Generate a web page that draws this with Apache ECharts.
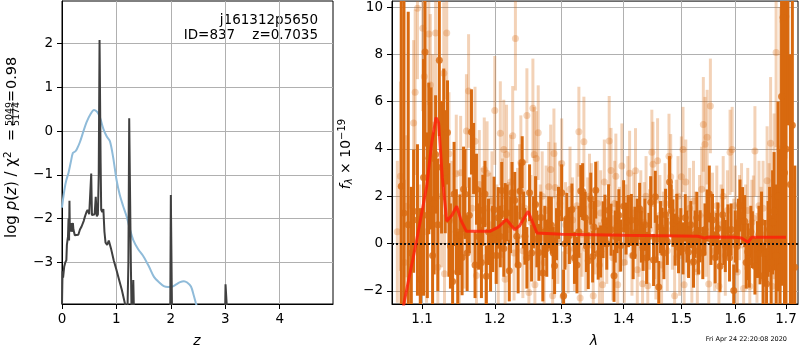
<!DOCTYPE html>
<html><head><meta charset="utf-8">
<script src="https://cdn.jsdelivr.net/npm/echarts@6/dist/echarts.min.js"></script>
<style>html,body{margin:0;padding:0;background:#fff}#c{width:800px;height:350px}</style>
</head><body><div id="c"></div>
<script>
// ---- Left panel: log p(z) ----
const zTicks = [0, 1, 2, 3, 4];
const pzTicks = [-3, -2, -1, 0, 1, 2];
const pzBlue = [[0,-1.75],[0.02,-1.55],[0.05,-1.3],[0.08,-1.12],[0.12,-0.95],[0.16,-0.72],[0.2,-0.5],[0.24,-0.47],[0.27,-0.42],[0.33,-0.25],[0.39,-0.02],[0.45,0.2],[0.52,0.38],[0.59,0.48],[0.65,0.43],[0.7,0.3],[0.76,0.05],[0.82,-0.12],[0.88,-0.23],[0.94,-0.6],[1.0,-1.1],[1.06,-1.45],[1.12,-1.7],[1.19,-1.96],[1.25,-2.25],[1.31,-2.49],[1.4,-2.7],[1.5,-2.87],[1.6,-3.1],[1.69,-3.33],[1.78,-3.45],[1.87,-3.54],[1.95,-3.56],[2.03,-3.55],[2.1,-3.5],[2.17,-3.45],[2.24,-3.43],[2.3,-3.46],[2.37,-3.55],[2.42,-3.75],[2.46,-3.93],[2.5,-4.1]];
const pzChi2 = [[0,-3.95],[0.01,-3.2],[0.02,-3.35],[0.04,-3.1],[0.06,-3.0],[0.08,-2.95],[0.09,-2.6],[0.1,-2.5],[0.11,-2.41],[0.12,-2.0],[0.13,-2.5],[0.137,-1.59],[0.145,-2.3],[0.15,-2.1],[0.16,-2.26],[0.17,-2.1],[0.18,-2.3],[0.2,-2.1],[0.21,-2.25],[0.235,-2.38],[0.26,-2.35],[0.3,-2.37],[0.33,-2.25],[0.36,-2.18],[0.4,-2.05],[0.42,-1.96],[0.45,-1.85],[0.47,-1.8],[0.5,-1.9],[0.52,-1.9],[0.537,-0.97],[0.55,-1.92],[0.58,-1.95],[0.6,-1.9],[0.62,-1.5],[0.64,-1.95],[0.66,-1.9],[0.675,-1.0],[0.69,2.08],[0.71,-0.73],[0.72,-1.8],[0.74,-1.85],[0.76,-1.78],[0.78,-2.3],[0.8,-2.55],[0.83,-2.6],[0.86,-2.5],[0.88,-2.49],[0.9,-2.68],[0.95,-2.95],[1.0,-3.17],[1.05,-3.4],[1.1,-3.63],[1.16,-3.96],[1.2,-4.3],[1.22,-3.0],[1.235,0.29],[1.25,0.25],[1.265,-3.0],[1.28,-4.3],[1.3,-3.9],[1.31,-3.4],[1.325,-4.3],[1.4,-6],[1.97,-6],[1.99,-3.93],[2.0,-1.46],[2.02,-3.93],[2.05,-6],[2.97,-6],[3.0,-3.93],[3.005,-3.5],[3.025,-3.93],[3.06,-6],[4.98,-6]];

// ---- Right panel: spectrum ----
const lamTicks = [1.1, 1.2, 1.3, 1.4, 1.5, 1.6, 1.7];
const fluxTicks = [-2, 0, 2, 4, 6, 8, 10];
// [lambda, flux, error]
const darkPoints = [[1.073,2.43,10],[1.0765,1.3,9],[1.082,0.8,9],[1.086,-0.4,2.8],[1.089,1.37,2.6],[1.094,1.0,3.2],[1.098,-1.5,3],[1.102,2.8,5],[1.104,8.1,4],[1.107,1.2,3.5],[1.109,3.6,3.2],[1.112,3.6,3],[1.114,-0.5,2.5],[1.116,1.7,3],[1.118,3.77,2.5],[1.121,0.8,2.8],[1.123,7.75,3.2],[1.126,3.23,2.8],[1.129,4.9,2.5],[1.131,3.04,2.6],[1.134,4.7,2.2],[1.136,1.0,2.4],[1.138,-0.1,1.8],[1.141,-1.6,1.6],[1.143,2.1,2.2],[1.146,0.5,1.8],[1.148,-1.2,1.7],[1.151,0.38,1.7],[1.154,-0.58,1.6],[1.156,2.3,1.8],[1.158,2.1,1.9],[1.161,-0.4,1.6],[1.164,1.2,1.6],[1.167,4.72,1.8],[1.170,3.6,1.5],[1.172,-0.9,1.4],[1.174,2.3,1.5],[1.177,0.3,1.4],[1.179,0.97,1.4],[1.181,-0.8,1.5],[1.183,1.41,1.5],[1.186,2.1,1.4],[1.188,-1.38,1.3],[1.191,0.5,1.4],[1.194,-0.72,1.3],[1.197,0.2,1.4],[1.199,1.43,1.4],[1.202,-0.5,1.2],[1.205,1.09,1.3],[1.208,0.3,1.3],[1.210,2.25,1.2],[1.213,-0.2,1.2],[1.215,1.26,1.3],[1.218,1.3,1.2],[1.221,-1.14,1.3],[1.223,0.8,1.2],[1.225,2.15,1.3],[1.229,1.83,1.2],[1.232,0.31,1.3],[1.234,-0.9,1.2],[1.237,2.22,1.2],[1.240,3.44,1.1],[1.242,1.0,1.2],[1.244,0.31,1.2],[1.247,-0.6,1.3],[1.251,2.15,1.2],[1.254,-0.4,1.2],[1.257,0.9,1.1],[1.260,1.65,1.2],[1.262,0.2,1.2],[1.265,-0.37,1.2],[1.268,1.1,1.1],[1.271,-1.24,1.2],[1.274,0.5,1.1],[1.277,-0.2,1.2],[1.280,0.9,1.1],[1.284,0.78,1.2],[1.287,-0.4,1.1],[1.289,-0.93,1.2],[1.292,0.4,1.1],[1.295,1.3,1.1],[1.300,2.15,1.2],[1.303,-2.2,1.1],[1.305,0.0,1.1],[1.308,1.05,1.1],[1.312,0.34,1.2],[1.316,1.44,1.1],[1.320,-0.6,1.1],[1.324,-0.9,1.2],[1.327,0.5,1.1],[1.330,2.22,1.1],[1.333,2.2,1.2],[1.337,1.09,1.1],[1.339,-0.1,1.1],[1.342,-0.72,1.2],[1.346,1.9,1.1],[1.349,-0.54,1.1],[1.351,0.7,1.1],[1.354,2.26,1.2],[1.358,-0.42,1.1],[1.362,-0.33,1.1],[1.366,0.59,1.2],[1.369,0.97,1.1],[1.372,0.0,1.1],[1.375,1.41,1.1],[1.379,0.59,1.1],[1.384,-1.36,1.1],[1.386,0.3,1.1],[1.389,0.7,1.1],[1.392,1.2,1.1],[1.395,-0.08,1.1],[1.400,1.58,1.1],[1.404,0.64,1.1],[1.408,0.95,1.1],[1.413,1.0,1.1],[1.416,-0.5,1.0],[1.419,0.46,1.1],[1.423,0.9,1.0],[1.427,1.47,1.1],[1.430,0.3,1.1],[1.433,-0.15,1.0],[1.436,0.8,1.1],[1.439,-0.6,1.1],[1.443,0.3,1.0],[1.446,1.75,1.1],[1.451,-0.69,1.1],[1.454,1.98,1.1],[1.457,0.2,1.0],[1.460,-1.83,1.1],[1.463,0.7,1.1],[1.466,0.52,1.0],[1.469,-0.4,1.1],[1.472,1.22,1.1],[1.475,0.1,1.0],[1.479,2.6,1.1],[1.482,1.4,1.1],[1.485,0.87,1.0],[1.489,0.17,1.1],[1.492,1.0,1.1],[1.495,-0.15,1.1],[1.499,0.5,1.0],[1.503,-0.2,1.1],[1.507,1.09,1.0],[1.510,0.3,1.1],[1.513,-0.35,1.1],[1.517,0.8,1.0],[1.522,-0.76,1.1],[1.525,0.4,1.0],[1.528,1.09,1.1],[1.531,-0.3,1.0],[1.534,0.31,1.1],[1.539,-0.4,1.1],[1.543,0.6,1.1],[1.547,1.19,1.1],[1.551,2.1,1.2],[1.554,0.2,1.1],[1.557,1.0,1.1],[1.562,-0.58,1.1],[1.565,0.3,1.0],[1.567,0.64,1.1],[1.571,-0.95,1.1],[1.576,1.22,1.1],[1.578,0.1,1.0],[1.581,-0.1,1.1],[1.586,0.56,1.1],[1.589,-0.6,1.0],[1.592,0.6,1.1],[1.597,-1.98,1.1],[1.600,0.3,1.1],[1.603,-0.12,1.1],[1.606,0.9,1.0],[1.609,1.61,1.1],[1.614,1.19,1.2],[1.618,0.95,1.1],[1.621,-0.8,1.1],[1.624,-0.34,1.2],[1.627,-0.76,1.1],[1.630,0.5,1.1],[1.633,0.17,1.2],[1.638,-0.95,1.2],[1.643,-0.25,1.2],[1.646,0.4,1.2],[1.648,-0.42,1.3],[1.651,0.9,1.3],[1.654,-1.36,1.4],[1.658,-0.4,1.4],[1.661,-1.69,1.5],[1.664,0.2,1.6],[1.667,0.6,1.8],[1.670,-0.8,2],[1.673,0.9,2.2],[1.676,1.37,2.5],[1.680,-0.5,3],[1.684,2.0,4],[1.688,-1.0,5],[1.691,6.22,8],[1.694,9.56,9],[1.697,3.0,12],[1.700,4.0,12],[1.704,11.0,6],[1.709,2.5,5.5],[1.713,5.0,10],[1.718,-1.0,4.3]];
const lightPoints = [[1.068,0.5,3],[1.072,2.85,4],[1.077,-0.8,3.5],[1.080,1.58,3],[1.085,-1.0,3],[1.089,5.1,3.5],[1.091,6.4,3.5],[1.094,9.95,3],[1.097,-0.5,3],[1.101,9.1,3.5],[1.103,7.06,3.5],[1.106,0.5,3],[1.109,8.86,3],[1.111,6.7,3],[1.114,5.0,3],[1.118,8.9,3],[1.121,-1.0,3],[1.126,2.0,3],[1.129,7.2,3],[1.130,-1.27,2.5],[1.133,8.9,2.8],[1.136,3.8,2.6],[1.140,1.0,2.5],[1.146,2.95,2.5],[1.150,-1.0,2.5],[1.152,3.0,2.4],[1.157,0.5,2.4],[1.160,4.76,2.4],[1.163,6.45,2.4],[1.168,1.5,2.3],[1.172,4.33,2.3],[1.174,-1.35,2.2],[1.178,2.5,2.3],[1.182,1.0,2.2],[1.185,3.13,2.2],[1.187,-0.58,2.2],[1.189,2.97,2.2],[1.193,0.8,2.2],[1.196,1.8,2.1],[1.200,5.63,2.3],[1.203,0.4,2.1],[1.205,-0.5,2.1],[1.208,4.66,2.2],[1.211,1.5,2.1],[1.213,3.98,2.1],[1.215,-1.5,2.1],[1.217,3.77,2.1],[1.220,0.6,2.0],[1.223,2.6,2.0],[1.226,4.56,2.1],[1.228,-0.4,2.0],[1.230,8.67,2.2],[1.233,1.2,2.0],[1.236,2.2,2.0],[1.238,3.42,2.0],[1.241,-0.3,2.0],[1.244,1.5,2.0],[1.247,5.41,2.0],[1.250,-2.06,2.0],[1.253,0.9,2.0],[1.256,5.72,2.1],[1.258,3.77,2.0],[1.259,-1.74,2.0],[1.261,3.6,2.0],[1.264,4.69,2.0],[1.267,0.6,1.9],[1.270,2.0,1.9],[1.273,-0.8,1.9],[1.276,1.4,1.9],[1.280,2.4,1.9],[1.283,3.13,1.9],[1.286,-2.2,1.9],[1.288,3.81,1.9],[1.290,2.37,1.9],[1.294,0.2,1.9],[1.297,1.7,1.8],[1.300,3.39,1.9],[1.302,-2.23,1.9],[1.306,0.8,1.8],[1.310,-0.3,1.8],[1.313,2.3,1.8],[1.317,1.0,1.8],[1.320,-0.2,1.8],[1.324,1.6,1.8],[1.327,4.73,1.9],[1.329,-2.3,1.9],[1.332,0.4,1.8],[1.335,4.31,1.9],[1.338,-0.2,1.8],[1.341,1.0,1.8],[1.344,2.0,1.8],[1.347,1.6,1.8],[1.350,-2.2,1.8],[1.353,0.5,1.8],[1.357,1.7,1.8],[1.360,-0.9,1.8],[1.362,1.3,1.8],[1.365,-1.74,1.8],[1.368,2.6,1.8],[1.372,0.1,1.8],[1.376,4.34,1.9],[1.379,3.09,1.8],[1.382,-0.6,1.8],[1.385,1.7,1.8],[1.387,2.85,1.8],[1.390,-1.74,1.8],[1.393,0.6,1.8],[1.397,3.28,1.8],[1.401,-0.8,1.7],[1.404,0.8,1.7],[1.407,1.9,1.8],[1.410,2.97,1.8],[1.414,-0.5,1.7],[1.417,1.3,1.7],[1.420,3.08,1.8],[1.423,-1.1,1.7],[1.426,0.3,1.7],[1.429,1.4,1.7],[1.432,-1.69,1.7],[1.435,0.9,1.7],[1.438,2.0,1.7],[1.441,-1.78,1.7],[1.444,0.6,1.7],[1.448,3.86,1.8],[1.450,3.35,1.8],[1.453,0.2,1.7],[1.455,-0.66,1.7],[1.458,3.5,1.8],[1.462,1.2,1.7],[1.465,-0.9,1.7],[1.468,0.5,1.7],[1.471,1.7,1.7],[1.475,-0.3,1.7],[1.478,3.69,1.8],[1.481,2.83,1.8],[1.484,0.6,1.7],[1.488,-2.2,1.7],[1.491,1.0,1.7],[1.494,2.0,1.7],[1.497,-0.5,1.7],[1.500,2.83,1.7],[1.503,3.98,1.8],[1.505,-1.74,1.7],[1.508,2.6,1.8],[1.512,0.3,1.7],[1.515,1.5,1.7],[1.519,-0.8,1.7],[1.522,1.8,1.7],[1.526,0.5,1.7],[1.529,-1.2,1.7],[1.533,1.2,1.7],[1.537,2.3,1.8],[1.540,5.04,2.0],[1.543,4.2,2.0],[1.545,0.4,1.8],[1.547,4.5,2.0],[1.550,-1.7,1.8],[1.553,5.82,2.0],[1.557,1.2,1.8],[1.561,-0.3,1.7],[1.565,1.6,1.7],[1.569,-1.8,1.7],[1.573,0.8,1.7],[1.577,2.0,1.7],[1.581,-0.5,1.7],[1.585,1.4,1.7],[1.590,3.86,1.8],[1.594,3.98,1.8],[1.597,0.2,1.7],[1.600,1.6,1.7],[1.604,-1.2,1.8],[1.608,1.1,1.8],[1.612,1.6,1.8],[1.616,-1.9,1.8],[1.620,0.7,1.8],[1.624,1.4,1.8],[1.628,-1.8,1.8],[1.632,0.9,1.8],[1.635,1.08,1.8],[1.638,3.91,1.9],[1.642,-0.6,1.9],[1.646,1.6,1.9],[1.650,0.4,2.0],[1.654,1.5,2.0],[1.658,-1.5,2.2],[1.662,2.66,2.3],[1.666,0.9,2.5],[1.669,4.24,2.8],[1.672,-1.8,3],[1.676,2.0,3.5],[1.680,8.08,4],[1.684,1.0,5],[1.688,4.0,6],[1.694,9.4,6],[1.697,9.9,6],[1.700,9.6,6]];
const modelLine = [[1.060,-6.5],[1.0766,-2.5],[1.0921,0],[1.1062,2.43],[1.113,4.3],[1.1186,5.33],[1.122,5.1],[1.127,2.8],[1.133,0.95],[1.140,1.2],[1.1466,1.58],[1.153,0.95],[1.160,0.52],[1.193,0.52],[1.205,0.7],[1.2169,1.02],[1.229,0.59],[1.236,0.75],[1.2488,1.37],[1.2622,0.45],[1.30,0.4],[1.40,0.35],[1.50,0.32],[1.530,0.31],[1.542,0.24],[1.550,0.28],[1.600,0.27],[1.612,0.24],[1.6245,0.06],[1.632,0.27],[1.700,0.27]];

const FONT = 'DejaVu Sans';
const DARK = '#d8690f';
const LIGHT = 'rgba(216,105,15,0.3)';
const LIGHTPT = 'rgba(216,105,15,0.35)';
const minus = v => String(v).replace('-', '\u2212');

const chart = echarts.init(document.getElementById('c'), null, {renderer: 'canvas'});

function errRender(color, width) {
  return function (params, api) {
    const x = api.value(0), y = api.value(1), e = api.value(2);
    const p1 = api.coord([x, y - e]);
    const p2 = api.coord([x, y + e]);
    return {type: 'line', shape: {x1: p1[0], y1: p1[1], x2: p2[0], y2: p2[1]},
      style: {stroke: color, lineWidth: width}};
  };
}
const toLog = arr => arr.map(d => [Math.log(d[0]), d[1], d[2]]);

const axisCommon = {
  axisLine: {show: true, onZero: false, lineStyle: {color: '#000', width: 1}},
  axisTick: {show: true, length: 5, lineStyle: {color: '#000', width: 1}},
  splitLine: {show: true, lineStyle: {color: '#b0b0b0', width: 1}},
};
const N = (size) => ({fontSize: size, fontFamily: FONT, color: '#000'});
const I = (size) => ({fontSize: size, fontFamily: FONT, fontStyle: 'italic', color: '#000'});
const T = (x, y, text, size, extra) => ({type: 'text', x: x, y: y,
  style: Object.assign({text: text, fontSize: size, fontFamily: FONT, fill: '#000', align: 'left', verticalAlign: 'middle'}, extra || {})});

const option = {
  animation: false,
  backgroundColor: '#fff',
  grid: [
    {left: 62, top: 1, width: 271, height: 303, show: true, borderColor: '#000', borderWidth: 1},
    {left: 392, top: 1, width: 406, height: 303, show: true, borderColor: '#000', borderWidth: 1}
  ],
  xAxis: [
    Object.assign({}, axisCommon, {type: 'value', gridIndex: 0, min: 0, max: 4.98,
      axisTick: Object.assign({}, axisCommon.axisTick, {customValues: zTicks}),
      axisLabel: {customValues: zTicks, color: '#000', fontFamily: FONT, fontSize: 13.5, margin: 8}}),
    Object.assign({}, axisCommon, {type: 'value', gridIndex: 1, min: Math.log(1.0612), max: Math.log(1.7246),
      axisTick: Object.assign({}, axisCommon.axisTick, {customValues: lamTicks.map(Math.log)}),
      axisLabel: {customValues: lamTicks.map(Math.log), color: '#000', fontFamily: FONT, fontSize: 13.5, margin: 8,
        formatter: v => Math.exp(v).toFixed(1)}})
  ],
  yAxis: [
    Object.assign({}, axisCommon, {type: 'value', gridIndex: 0, min: -3.95, max: 2.97,
      axisTick: Object.assign({}, axisCommon.axisTick, {customValues: pzTicks}),
      axisLabel: {customValues: pzTicks, color: '#000', fontFamily: FONT, fontSize: 13.5, margin: 9, formatter: minus}}),
    Object.assign({}, axisCommon, {type: 'value', gridIndex: 1, min: -2.55, max: 10.25,
      axisTick: Object.assign({}, axisCommon.axisTick, {customValues: fluxTicks}),
      axisLabel: {customValues: fluxTicks, color: '#000', fontFamily: FONT, fontSize: 13.5, margin: 9, formatter: minus}})
  ],
  series: [
    {type: 'line', xAxisIndex: 0, yAxisIndex: 0, data: pzBlue, showSymbol: false, smooth: 0.3,
      lineStyle: {color: '#8fbbd9', width: 2}, clip: true, z: 3},
    {type: 'line', xAxisIndex: 0, yAxisIndex: 0, data: pzChi2, showSymbol: false,
      lineStyle: {color: '#404040', width: 2}, clip: true, z: 4},
    {type: 'custom', xAxisIndex: 1, yAxisIndex: 1, data: toLog(lightPoints), renderItem: errRender(LIGHT, 3),
      clip: true, encode: {x: 0, y: 1}, z: 2},
    {type: 'scatter', xAxisIndex: 1, yAxisIndex: 1, data: toLog(lightPoints).map(d => [d[0], d[1]]),
      symbolSize: 7, itemStyle: {color: LIGHTPT}, clip: true, z: 2},
    {type: 'custom', xAxisIndex: 1, yAxisIndex: 1, data: toLog(darkPoints), renderItem: errRender(DARK, 3),
      clip: true, encode: {x: 0, y: 1}, z: 3},
    {type: 'scatter', xAxisIndex: 1, yAxisIndex: 1, data: toLog(darkPoints).map(d => [d[0], d[1]]),
      symbolSize: 7, itemStyle: {color: DARK}, clip: true, z: 3},
    {type: 'line', xAxisIndex: 1, yAxisIndex: 1, data: modelLine.map(d => [Math.log(d[0]), d[1]]),
      showSymbol: false, lineStyle: {color: 'rgba(255,30,10,0.8)', width: 3}, clip: true, z: 5,
      markLine: {silent: true, symbol: 'none', label: {show: false},
        lineStyle: {color: '#111', type: [2, 2], width: 2}, data: [{yAxis: 0}]}}
  ],
  graphic: [
    T(318, 20, 'j161312p5650', 13.5, {align: 'right'}),
    T(318, 35, 'ID=837    z=0.7035', 13.5, {align: 'right'}),
    T(197, 341, 'z', 14, {align: 'center', fontStyle: 'italic'}),
    T(594, 341, 'λ', 14, {align: 'center', fontStyle: 'italic'}),
    T(787, 339, 'Fri Apr 24 22:20:08 2020', 6.5, {align: 'right'}),
    {type: 'group', x: 12.5, y: 238, rotation: Math.PI / 2, children: [
      {type: 'text', x: 0, y: 0, style: {
        text: '{n|log }{i|p}{n|(}{i|z}{n|)}{n| / }{n|χ}{s|2}',
        align: 'left', verticalAlign: 'middle', fill: '#000',
        rich: {n: N(15), i: I(15), s: Object.assign(N(10.5), {padding: [0, 0, 8, 0]})}}},
      T(103, 0, '=', 14.5, {align: 'center'}),
      T(124, -3.4, '5049', 9.5, {align: 'center'}),
      {type: 'rect', shape: {x: 112, y: 0, width: 24, height: 0.8}, style: {fill: '#000'}},
      T(124, 4.2, '5174', 9.5, {align: 'center'}),
      T(142, 0, '=', 14.5, {align: 'center'}),
      T(149, 0, '0.98', 14.5, {align: 'left'})
    ]},
    {type: 'text', x: 346, y: 154, rotation: Math.PI / 2, style: {
      text: '{i|f}{sub|λ}{n| × 10}{sup|−19}', align: 'center', verticalAlign: 'middle', fill: '#000',
      rich: {n: N(14), i: I(14), sub: Object.assign(I(10), {padding: [6, 0, 0, 0]}),
        sup: Object.assign(N(10), {padding: [0, 0, 8, 0]})}}}
  ]
};
chart.setOption(option);
</script>
</body></html>
